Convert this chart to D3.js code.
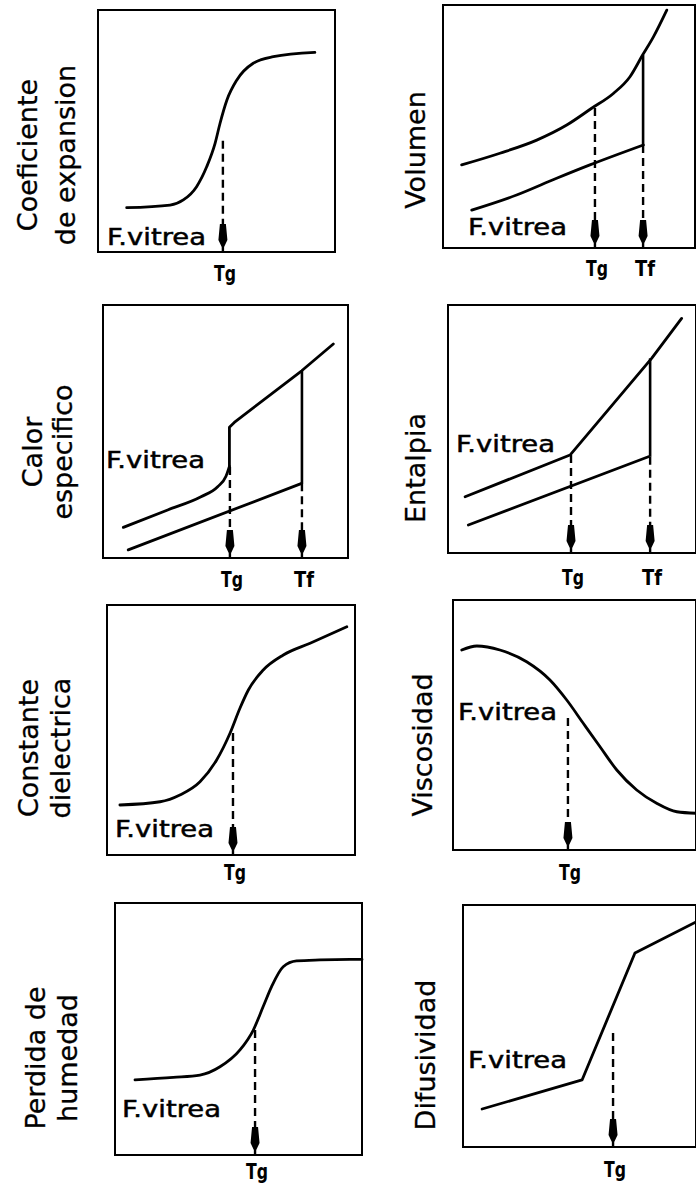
<!DOCTYPE html>
<html>
<head>
<meta charset="utf-8">
<script src="https://cdn.jsdelivr.net/npm/d3@7"></script>
<style>
  body { margin: 0; background: #fff; }
  svg { display: block; }
</style>
</head>
<body>
<svg width="696" height="1187"></svg>
<script>
// titulos del eje y de cada panel
var yLabels = [
  ["Coeficiente", "de expansion"], ["Volumen"],
  ["Calor", "especifico"], ["Entalpia"],
  ["Constante", "dielectrica"], ["Viscosidad"],
  ["Perdida de", "humedad"], ["Difusividad"]
];
var vitreaText = "F.vitrea";

// curvas, en unidades 0-100 dentro de cada panel
var coefExp = [[12.1,18.3],[30.4,19.4],[36.0,21.5],[41.6,27.0],[45.9,35.3],[49.4,44.9],[51.5,53.2],[54.4,62.8],[58.6,71.1],[65.5,78.0],[74.0,80.7],[91.5,82.5]];
var volSup = [[7.4,34.2],[22.6,39.0],[37.2,44.4],[49.1,50.6],[59.0,57.5],[67.6,63.6],[74.2,70.5],[79.2,79.4],[83.5,86.9],[88.8,97.9]];
var volInf = [[11.4,15.6],[29.2,21.8],[45.1,28.7],[58.3,34.2],[79.5,42.4]];
var calorSupCurva = [[8.3,12.1],[26.4,19.0],[40.0,24.2],[46.8,28.2],[50.2,32.3],[51.6,36.2]];
var calorSupRecta = [[51.6,36.2],[51.6,51.7],[53.6,53.6],[81.1,74.0],[94.0,84.6]];
var calorInf = [[10.3,3.2],[81.1,29.5]];
var entalpiaSup = [[6.9,22.7],[49.2,39.5],[82.1,78.5],[94.2,94.6]];
var entalpiaInf = [[8.2,11.3],[80.8,38.8]];
var constDiel = [[5.2,20.0],[21.4,21.3],[29.4,24.0],[37.5,29.3],[44.2,38.0],[49.6,48.7],[53.6,58.7],[57.0,66.0],[63.0,74.0],[71.1,80.0],[81.9,84.7],[96.7,91.3]];
var viscosidad = [[3.6,80.0],[9.8,81.6],[19.3,80.0],[30.3,75.3],[39.9,68.0],[46.8,60.0],[53.6,50.7],[60.5,41.3],[67.4,32.0],[75.6,24.0],[83.8,18.7],[92.1,15.3],[100,14.7]];
var perdidaHum = [[8.1,29.8],[23.6,30.8],[34.4,31.7],[42.5,35.0],[50.6,41.7],[56.0,49.6],[60.0,58.9],[63.4,66.8],[68.1,74.7],[73.5,77.0],[83.0,77.4],[95.1,77.6],[100,77.6]];
var difusividad = [[8.2,15.7],[51.1,27.7],[73.8,80.2],[100,93.0]];

// Tg: [x, y donde empieza la linea]
var tgMarks = [[52.7,46],[60.3,57.6],[51.8,36],[49.6,39.5],[50.8,48.8],[47.3,52.8],[56.7,49.6],[64.4,47.1]];
// Tf: [x, y arriba, y donde termina el tramo continuo]
var tfMarks = [null,[79.4,79.4,42.4],[81.2,74.0,29.5],[81.5,78.5,38.8],null,null,null,null];

var series = [
  [{pts: coefExp, smooth: true}],
  [{pts: volSup, smooth: true}, {pts: volInf, smooth: true}],
  [{pts: calorSupCurva, smooth: true}, {pts: calorSupRecta}, {pts: calorInf}],
  [{pts: entalpiaSup}, {pts: entalpiaInf}],
  [{pts: constDiel, smooth: true}],
  [{pts: viscosidad, smooth: true}],
  [{pts: perdidaHum, smooth: true}],
  [{pts: difusividad}]
];

// disposicion en la pagina
var boxes = [[98,10,237,242],[443,5,252,243],[103,305,245,253],[448,305,248,248],
             [107,605,248,250],[453,600,243,250],[115,903,247,252],[463,905,233,242]];
var labelPos = [[37,75,155],[425,0,150],[42,72,452],[425,0,468],[38,70,748],[432,0,745],[45,77,1058],[435,0,1055]];
var vitreaPos = [[107,245],[468,235],[106,468],[456,452],[115,837],[458,720],[122,1117],[468,1068]];
var tLabelY = [281,276,587,585,880,880,1179,1177];

var svg = d3.select("svg");
var font = "'DejaVu Sans', Verdana, sans-serif";

svg.append("rect").attr("width", 696).attr("height", 1187).attr("fill", "#fff");

// punta de flecha alargada, como en el dibujo escaneado
function arrow(g, px, py) {
  g.append("path")
    .attr("d", "M" + (px-3) + "," + (py-28) + "L" + (px+3) + "," + (py-28) +
               "L" + (px+4.5) + "," + (py-12) + "L" + (px+1.2) + "," + (py-5) +
               "L" + (px+1.2) + "," + py + "L" + (px-1.2) + "," + py +
               "L" + (px-1.2) + "," + (py-5) + "L" + (px-4.5) + "," + (py-12) + "Z")
    .attr("fill", "#000");
}

series.forEach(function(ser, i) {
  var b = boxes[i];
  var x = d3.scaleLinear().domain([0, 100]).range([b[0], b[0] + b[2]]);
  var y = d3.scaleLinear().domain([0, 100]).range([b[1] + b[3], b[1]]);
  var g = svg.append("g").attr("class", "panel");

  g.append("rect")
    .attr("x", x(0)).attr("y", y(100))
    .attr("width", x(100) - x(0)).attr("height", y(0) - y(100))
    .attr("fill", "none").attr("stroke", "#000").attr("stroke-width", 2);

  ser.forEach(function(s) {
    var line = d3.line()
      .x(function(d) { return x(d[0]); })
      .y(function(d) { return y(d[1]); })
      .curve(s.smooth ? d3.curveMonotoneX : d3.curveLinear);
    g.append("path").datum(s.pts)
      .attr("d", line)
      .attr("fill", "none").attr("stroke", "#000")
      .attr("stroke-width", 2.8).attr("stroke-linejoin", "round").attr("stroke-linecap", "round");
  });

  // Tg
  var tg = tgMarks[i];
  g.append("line")
    .attr("x1", x(tg[0])).attr("x2", x(tg[0]))
    .attr("y1", y(tg[1])).attr("y2", y(0) - 26)
    .attr("stroke", "#000").attr("stroke-width", 2.4).attr("stroke-dasharray", "8,5");
  arrow(g, x(tg[0]), y(0));
  g.append("text")
    .attr("x", x(tg[0]) + 2).attr("y", tLabelY[i])
    .attr("text-anchor", "middle")
    .attr("textLength", 22).attr("lengthAdjust", "spacingAndGlyphs")
    .style("font", "bold 21px " + font)
    .text("Tg");

  // Tf
  var tf = tfMarks[i];
  if (tf) {
    g.append("line")
      .attr("x1", x(tf[0])).attr("x2", x(tf[0]))
      .attr("y1", y(tf[1])).attr("y2", y(tf[2]))
      .attr("stroke", "#000").attr("stroke-width", 2.6);
    g.append("line")
      .attr("x1", x(tf[0])).attr("x2", x(tf[0]))
      .attr("y1", y(tf[2])).attr("y2", y(0) - 26)
      .attr("stroke", "#000").attr("stroke-width", 2.4).attr("stroke-dasharray", "8,5");
    arrow(g, x(tf[0]), y(0));
    g.append("text")
      .attr("x", x(tf[0]) + 2).attr("y", tLabelY[i])
      .attr("text-anchor", "middle")
      .attr("textLength", 20).attr("lengthAdjust", "spacingAndGlyphs")
      .style("font", "bold 21px " + font)
      .text("Tf");
  }

  // F.vitrea
  g.append("text")
    .attr("x", vitreaPos[i][0]).attr("y", vitreaPos[i][1])
    .attr("textLength", 99).attr("lengthAdjust", "spacingAndGlyphs")
    .style("font", "23px " + font)
    .attr("stroke", "#000").attr("stroke-width", 0.5)
    .text(vitreaText);

  // titulo eje y, girado
  var lp = labelPos[i];
  yLabels[i].forEach(function(t, k) {
    var bx = k === 0 ? lp[0] : lp[1];
    g.append("text")
      .attr("transform", "translate(" + bx + "," + lp[2] + ") rotate(-90)")
      .attr("text-anchor", "middle")
      .attr("stroke", "#000").attr("stroke-width", 0.3)
      .style("font", "27px " + font)
      .text(t);
  });
});
</script>
</body>
</html>
